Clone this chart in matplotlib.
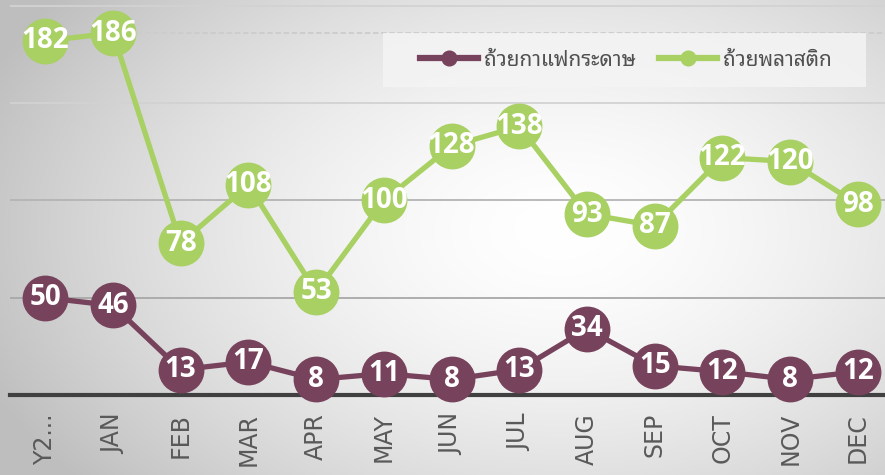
import numpy as np
import matplotlib
matplotlib.use("Agg")
import matplotlib.pyplot as plt
from matplotlib import font_manager
from matplotlib.ft2font import FT2Font
from matplotlib.patches import Rectangle

months = ["Y2...", "JAN", "FEB", "MAR", "APR", "MAY", "JUN", "JUL", "AUG", "SEP", "OCT", "NOV", "DEC"]
paper = [50, 46, 13, 17, 8, 11, 8, 13, 34, 15, 12, 8, 12]
plastic = [182, 186, 78, 108, 53, 100, 128, 138, 93, 87, 122, 120, 98]
series_names = ["ถ้วยกาแฟกระดาษ", "ถ้วยพลาสติก"]
gridvals = [50, 100, 150, 200]

PAPER_C = "#77425B"
PLASTIC_C = "#A8D063"

# find a font with Thai glyphs
thai_fonts = set()
for f in font_manager.fontManager.ttflist:
    try:
        if 0x0E16 in FT2Font(f.fname).get_charmap():
            thai_fonts.add(f.name)
    except Exception:
        pass
pref = ["Noto Sans Thai Looped", "IBM Plex Sans Thai Looped", "Sarabun", "Noto Sans Thai",
        "IBM Plex Sans Thai"]
chosen = [p for p in pref if p in thai_fonts] or sorted(thai_fonts)[:1]
thai_family = chosen[:1] + ["DejaVu Sans"]

W, H = 885, 475
fig = plt.figure(figsize=(W / 100, H / 100), dpi=100)

# radial gradient background
bg = fig.add_axes([0, 0, 1, 1], zorder=-10)
yy, xx = np.mgrid[0:H, 0:W]
d = np.sqrt(((xx - 560) / 520.0) ** 2 + ((yy - 230) / 330.0) ** 2)
g = 1.0 - 0.19 * np.clip(d, 0, 1.2) ** 1.6
bg.imshow(np.dstack([g, g, g]), extent=[0, 1, 0, 1], aspect="auto", origin="upper")
bg.set_axis_off()

ax = fig.add_axes([10 / W, 80 / H, 875 / W, 395 / H])
ax.patch.set_alpha(0)
ax.set_xlim(-0.52, 12.4)
ax.set_ylim(0, 203)

grid_colors = ["#A8A8A8", "#B4B4B4", "#D2D2D2", "#D2D2D2"]
for v, c in zip(gridvals, grid_colors):
    ax.axhline(v, color=c, lw=1.3, zorder=1)
ax.hlines(max(plastic), 1, 12.4, colors="#CCCCCC", linestyles=(0, (3, 1.5)), lw=1.3, zorder=1)

x = np.arange(len(months))
ax.plot(x, paper, color=PAPER_C, lw=3.8, marker="o", ms=32, zorder=3, clip_on=False, label=series_names[0])
ax.plot(x, plastic, color=PLASTIC_C, lw=3.8, marker="o", ms=32, zorder=3, clip_on=False, label=series_names[1])

for xi, v in zip(x, paper):
    ax.text(xi, v, str(v), ha="center", va="center", color="white", fontsize=20,
            fontweight="bold", family="Open Sans", zorder=5)
for xi, v in zip(x, plastic):
    ax.text(xi, v, str(v), ha="center", va="center", color="white", fontsize=20,
            fontweight="bold", family="Open Sans", zorder=5)

for s in ["top", "right", "left"]:
    ax.spines[s].set_visible(False)
ax.spines["bottom"].set_color("#404040")
ax.spines["bottom"].set_linewidth(3)
ax.spines["bottom"].set_zorder(2)
ax.set_yticks([])
ax.set_xticks(x)
ax.set_xticklabels(months, rotation=90, fontsize=17, color="#595959", family="DejaVu Sans")
ax.tick_params(axis="x", length=0, pad=13)

# legend box
box = Rectangle((383 / W, 1 - 87 / H), (866 - 383) / W, 54 / H, transform=fig.transFigure,
                facecolor="#F4F4F4", alpha=0.85, edgecolor="none", zorder=4, clip_on=False)
ax.add_artist(box)
leg = ax.legend(loc="center", bbox_to_anchor=(626 / W, 1 - 60 / H), bbox_transform=fig.transFigure,
                ncol=2, frameon=False, prop={"family": thai_family, "size": 15},
                handlelength=2.75, columnspacing=1.15, handletextpad=0.3, markerscale=0.33,
                borderpad=0)
leg.set_zorder(6)
for t in leg.get_texts():
    t.set_color("#505050")
for h in leg.legend_handles:
    h.set_linewidth(4.5)

fig.savefig("out.png", dpi=100)
